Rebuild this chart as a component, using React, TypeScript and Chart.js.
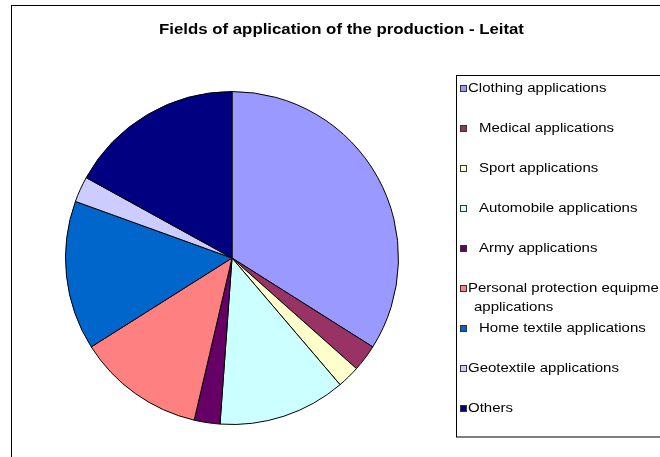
import React, { useEffect, useRef } from "react";
import { Chart, registerables } from "chart.js";

Chart.register(...registerables);

const titleText = "Fields of application of the production - Leitat";

const categories = [
  "Clothing applications",
  "Medical applications",
  "Sport applications",
  "Automobile applications",
  "Army applications",
  "Personal protection equipment applications",
  "Home textile applications",
  "Geotextile applications",
  "Others",
];

const shares = [34, 2.6, 2.2, 12.4, 2.5, 12.4, 14.5, 2.5, 17];

const sliceColors = [
  "#9999FF",
  "#993366",
  "#FFFFCC",
  "#CCFFFF",
  "#660066",
  "#FF8080",
  "#0066CC",
  "#CCCCFF",
  "#000080",
];

// extra text indent per legend entry (Excel spacing quirk)
const legendIndent = [0, 11, 11, 11, 11, 0, 11, 0, 0];

const FONT = '"Liberation Sans", Arial, sans-serif';

function stretchText(ctx: any, text: string, x: number, y: number, sx: number, align: string) {
  ctx.save();
  ctx.translate(x, y);
  ctx.scale(sx, 1);
  ctx.textAlign = align;
  ctx.fillText(text, 0, 0);
  ctx.restore();
}

const decorPlugin = {
  id: "decor",
  beforeDraw(chart: any) {
    const ctx = chart.ctx;
    ctx.save();
    ctx.fillStyle = "#ffffff";
    ctx.fillRect(0, 0, chart.width, chart.height);
    ctx.strokeStyle = "#000000";
    ctx.lineWidth = 1;
    ctx.strokeRect(11.5, 5.5, 700, 500);
    ctx.fillStyle = "#000000";
    ctx.font = `bold 14px ${FONT}`;
    ctx.textBaseline = "middle";
    stretchText(ctx, titleText, 341.5, 30, 1.2, "center");
    ctx.restore();
  },
  afterDraw(chart: any) {
    const ctx = chart.ctx;
    ctx.save();
    ctx.strokeStyle = "#000000";
    ctx.lineWidth = 1;
    ctx.strokeRect(456.5, 75.5, 260, 361.5);
    ctx.font = `12.5px ${FONT}`;
    ctx.textBaseline = "middle";
    const labels: string[] = chart.data.labels;
    const colors: string[] = chart.data.datasets[0].backgroundColor;
    const maxW = 180;
    labels.forEach((lab, i) => {
      const y = 89 + i * 40;
      const sqX = 460;
      ctx.fillStyle = colors[i];
      ctx.fillRect(sqX + 0.5, y - 3.5, 6, 6);
      ctx.strokeStyle = "#333333";
      ctx.strokeRect(sqX + 0.5, y - 3.5, 6, 6);
      ctx.fillStyle = "#000000";
      const tx = 468 + legendIndent[i];
      const words = lab.split(" ");
      const lines: string[] = [];
      let cur = "";
      words.forEach((w) => {
        const t = cur ? cur + " " + w : w;
        if (ctx.measureText(t).width > maxW && cur) {
          lines.push(cur);
          cur = w;
        } else cur = t;
      });
      lines.push(cur);
      lines.forEach((ln, k) => {
        stretchText(ctx, ln, k === 0 ? tx : tx + 6, y + k * 19, 1.2, "left");
      });
    });
    ctx.restore();
  },
};

export default function App() {
  const ref = useRef<HTMLCanvasElement | null>(null);
  useEffect(() => {
    document.body.style.margin = "0";
    const chart = new Chart(ref.current as HTMLCanvasElement, {
      type: "pie",
      data: {
        labels: categories,
        datasets: [
          {
            data: shares,
            backgroundColor: sliceColors,
            borderColor: "#000000",
            borderWidth: 1,
          },
        ],
      },
      options: {
        animation: false,
        responsive: false,
        layout: { padding: { left: 65, right: 261, top: 91, bottom: 32 } },
        plugins: {
          legend: { display: false },
          title: { display: false },
          tooltip: { enabled: false },
        },
      },
      plugins: [decorPlugin],
    });
    return () => chart.destroy();
  }, []);
  return (
    <div style={{ width: 660, height: 457 }}>
      <canvas ref={ref} width={660} height={457} style={{ display: "block" }} />
    </div>
  );
}
